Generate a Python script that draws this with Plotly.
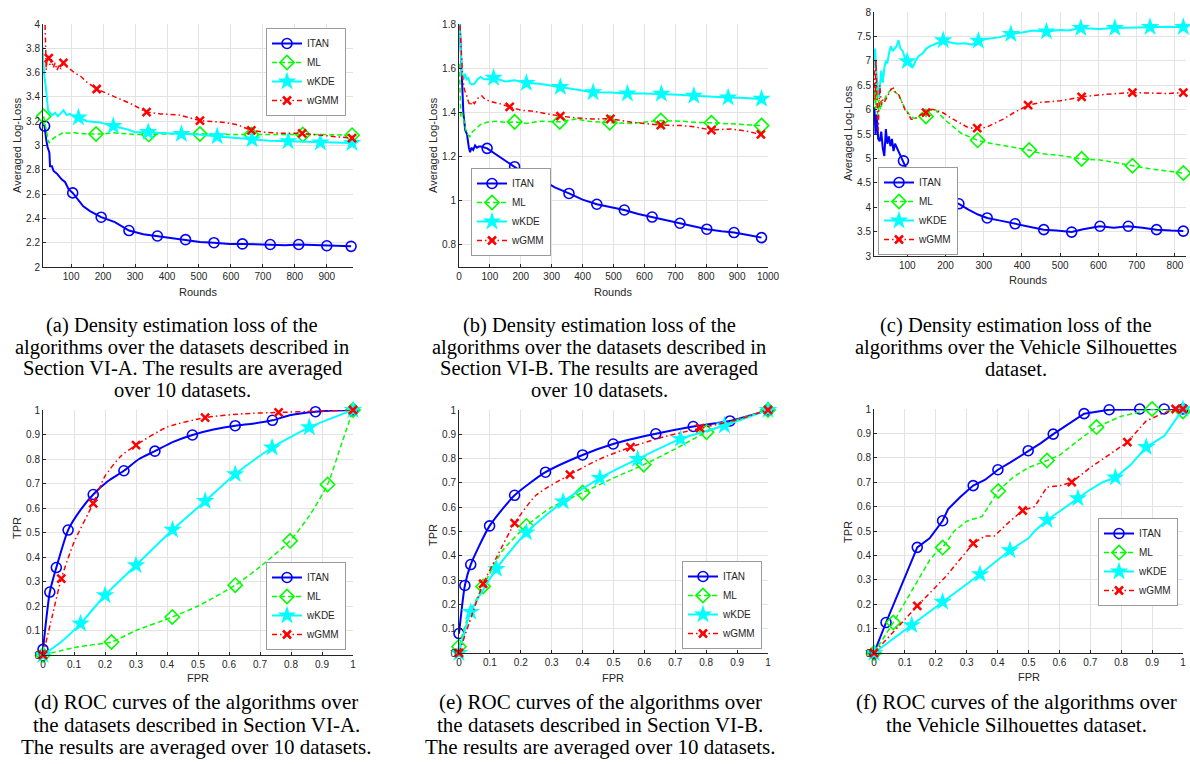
import plotly.graph_objects as go

W, H = 1190, 764

# ---------------- Panel (a): loss, Section VI-A ----------------
A_ITAN_MX = [17, 105, 194, 281, 370, 458, 547, 636, 723, 812, 900, 976]
A_ITAN_MY = [3.16, 2.61, 2.41, 2.30, 2.255, 2.225, 2.20, 2.19, 2.185, 2.185, 2.175, 2.17]
A_ITAN_EX = [12, 22, 26, 32, 34, 40, 45, 55, 71, 81, 92, 138, 159, 237, 326, 419, 503, 596, 680, 770, 860, 940]
A_ITAN_EY = [3.17, 3.05, 2.99, 2.94, 2.83, 2.83, 2.79, 2.77, 2.72, 2.70, 2.64, 2.50, 2.46, 2.37, 2.27, 2.235, 2.205, 2.19, 2.185, 2.18, 2.18, 2.17]

A_ML_MX = [14, 178, 343, 503, 664, 825, 979]
A_ML_MY = [3.24, 3.095, 3.09, 3.095, 3.09, 3.09, 3.085]
A_ML_EX = [18, 24, 30, 36, 45, 55, 65, 76, 90, 110, 130, 150, 200, 230, 260, 300, 400, 450, 560, 620, 720, 780, 900]
A_ML_EY = [3.18, 3.08, 3.02, 3.04, 3.06, 3.08, 3.09, 3.11, 3.10, 3.105, 3.10, 3.095, 3.095, 3.105, 3.10, 3.09, 3.095, 3.10, 3.09, 3.09, 3.09, 3.095, 3.09]

A_KDE_MX = [123, 232, 341, 445, 557, 666, 779, 880, 979]
A_KDE_MY = [3.23, 3.16, 3.11, 3.095, 3.075, 3.05, 3.035, 3.025, 3.02]
A_KDE_EX = [10, 16, 22, 28, 34, 42, 50, 58, 66, 76, 86, 96, 108, 150, 190, 280, 300, 400, 500, 620, 720, 840, 930]
A_KDE_EY = [3.82, 3.58, 3.45, 3.29, 3.27, 3.25, 3.27, 3.24, 3.26, 3.29, 3.25, 3.26, 3.24, 3.20, 3.19, 3.13, 3.11, 3.10, 3.09, 3.06, 3.04, 3.03, 3.025]

A_GMM_MX = [30, 76, 180, 336, 503, 664, 823, 979]
A_GMM_MY = [3.72, 3.68, 3.465, 3.275, 3.205, 3.125, 3.10, 3.06]
A_GMM_EX = [14, 18, 22, 26, 34, 38, 44, 50, 56, 62, 68, 86, 96, 110, 130, 150, 210, 250, 290, 380, 440, 580, 620, 700, 760, 900]
A_GMM_EY = [4.3, 4.05, 3.62, 3.75, 3.66, 3.71, 3.64, 3.68, 3.62, 3.66, 3.63, 3.65, 3.63, 3.60, 3.57, 3.52, 3.43, 3.39, 3.34, 3.26, 3.25, 3.19, 3.17, 3.11, 3.10, 3.08]

# ---------------- Panel (b): loss, Section VI-B ----------------
B_ITAN_MX = [91, 180, 269, 356, 446, 535, 625, 715, 802, 890, 979]
B_ITAN_MY = [1.237, 1.154, 1.094, 1.033, 0.984, 0.958, 0.926, 0.898, 0.871, 0.856, 0.833]
B_ITAN_EX = [1, 4, 7, 10, 14, 20, 26, 32, 36, 40, 46, 52, 58, 64, 72, 130, 225, 310, 400, 490, 580, 670, 760, 850, 935]
B_ITAN_EY = [1.85, 1.75, 1.62, 1.50, 1.40, 1.32, 1.30, 1.24, 1.22, 1.24, 1.23, 1.25, 1.24, 1.245, 1.245, 1.20, 1.11, 1.06, 1.005, 0.97, 0.94, 0.91, 0.885, 0.862, 0.845]

B_ML_MX = [180, 326, 488, 653, 817, 979]
B_ML_MY = [1.357, 1.357, 1.353, 1.363, 1.353, 1.34]
B_ML_EX = [1, 3, 6, 10, 15, 22, 28, 35, 42, 50, 60, 70, 90, 120, 150, 220, 260, 380, 420, 560, 600, 720, 760, 880, 920]
B_ML_EY = [1.62, 1.45, 1.38, 1.40, 1.36, 1.32, 1.30, 1.29, 1.31, 1.32, 1.33, 1.345, 1.355, 1.36, 1.355, 1.35, 1.36, 1.37, 1.36, 1.35, 1.355, 1.36, 1.355, 1.35, 1.345]

B_KDE_MX = [112, 218, 328, 434, 545, 655, 760, 871, 979]
B_KDE_MY = [1.556, 1.533, 1.515, 1.491, 1.485, 1.484, 1.475, 1.467, 1.461]
B_KDE_EX = [1, 4, 8, 12, 16, 20, 25, 30, 36, 42, 50, 60, 70, 80, 95, 150, 180, 260, 380, 490, 600, 710, 820, 930]
B_KDE_EY = [1.82, 1.70, 1.61, 1.56, 1.55, 1.575, 1.55, 1.555, 1.53, 1.525, 1.53, 1.55, 1.56, 1.55, 1.55, 1.54, 1.545, 1.53, 1.505, 1.49, 1.485, 1.48, 1.47, 1.465]

B_GMM_MX = [164, 328, 490, 653, 817, 977]
B_GMM_MY = [1.425, 1.383, 1.371, 1.342, 1.32, 1.30]
B_GMM_EX = [1, 4, 8, 12, 18, 24, 30, 36, 42, 50, 58, 66, 74, 84, 100, 130, 200, 240, 280, 380, 430, 560, 600, 720, 760, 880, 930]
B_GMM_EY = [1.85, 1.78, 1.68, 1.55, 1.50, 1.48, 1.45, 1.43, 1.45, 1.44, 1.46, 1.47, 1.475, 1.46, 1.45, 1.44, 1.41, 1.405, 1.395, 1.375, 1.37, 1.355, 1.35, 1.34, 1.335, 1.325, 1.315]

# ---------------- Panel (c): loss, Vehicle Silhouettes ----------------
C_ITAN_MX = [90, 162, 235, 309, 382, 457, 530, 604, 678, 752, 822]
C_ITAN_MY = [4.95, 4.60, 4.07, 3.78, 3.66, 3.54, 3.49, 3.61, 3.61, 3.54, 3.51]
C_ITAN_EX = [14, 17, 20, 24, 28, 32, 36, 40, 44, 48, 52, 56, 60, 64, 68, 74, 80, 100, 110, 118, 126, 134, 146, 154, 175, 195, 210, 260, 285, 340, 420, 490, 560, 640, 715, 790]
C_ITAN_EY = [6.05, 5.5, 5.9, 5.4, 5.35, 5.55, 5.2, 5.05, 5.6, 5.3, 5.45, 5.25, 5.4, 5.15, 5.3, 5.2, 5.1, 4.75, 4.65, 4.62, 4.55, 4.6, 4.48, 4.58, 4.5, 4.3, 4.15, 3.95, 3.85, 3.73, 3.60, 3.52, 3.55, 3.58, 3.58, 3.52]

C_ML_MX = [149, 284, 419, 556, 689, 822]
C_ML_MY = [5.86, 5.37, 5.17, 4.99, 4.85, 4.70]
C_ML_EX = [14, 17, 20, 23, 26, 30, 35, 40, 46, 52, 58, 64, 70, 76, 84, 92, 100, 110, 120, 130, 140, 158, 172, 185, 200, 220, 240, 260, 310, 350, 380, 450, 500, 600, 640, 740, 780]
C_ML_EY = [6.4, 6.0, 6.6, 5.8, 6.2, 6.0, 6.15, 6.2, 6.3, 6.35, 6.42, 6.38, 6.35, 6.3, 6.2, 6.05, 5.95, 5.85, 5.82, 5.85, 5.95, 5.98, 6.01, 5.9, 5.78, 5.65, 5.52, 5.45, 5.32, 5.26, 5.22, 5.10, 5.06, 4.97, 4.92, 4.78, 4.74]

C_KDE_MX = [100, 194, 286, 371, 464, 554, 643, 735, 822]
C_KDE_MY = [6.99, 7.42, 7.41, 7.55, 7.60, 7.67, 7.67, 7.69, 7.69]
C_KDE_EX = [14, 16, 18, 20, 23, 26, 29, 32, 36, 40, 44, 48, 52, 57, 62, 67, 72, 77, 82, 88, 94, 108, 115, 122, 130, 140, 150, 160, 175, 210, 230, 250, 270, 310, 340, 400, 430, 500, 520, 600, 700, 780]
C_KDE_EY = [6.85, 7.25, 6.9, 6.6, 6.4, 6.25, 6.5, 6.8, 6.55, 6.85, 7.0, 6.95, 7.15, 7.3, 7.2, 7.25, 7.3, 7.42, 7.25, 7.2, 7.05, 6.95, 6.88, 7.0, 7.1, 7.15, 7.25, 7.3, 7.35, 7.38, 7.35, 7.36, 7.33, 7.45, 7.48, 7.58, 7.62, 7.63, 7.62, 7.65, 7.68, 7.7]

C_GMM_MX = [149, 283, 416, 556, 689, 822]
C_GMM_MY = [5.94, 5.62, 6.09, 6.26, 6.35, 6.35]
C_GMM_EX = [14, 16, 18, 20, 22, 24, 26, 28, 32, 36, 40, 46, 52, 58, 64, 70, 78, 86, 94, 102, 110, 118, 126, 136, 160, 168, 180, 195, 210, 225, 240, 255, 270, 300, 310, 330, 350, 375, 400, 450, 500, 600, 650, 730, 780]
C_GMM_EY = [6.8, 6.2, 7.02, 6.3, 5.9, 5.58, 6.3, 6.5, 6.1, 6.2, 6.15, 6.25, 6.35, 6.42, 6.44, 6.35, 6.3, 6.15, 6.0, 5.92, 5.8, 5.8, 5.85, 5.9, 6.0, 6.0, 5.97, 5.93, 5.85, 5.78, 5.72, 5.65, 5.62, 5.63, 5.65, 5.72, 5.8, 5.92, 6.02, 6.15, 6.18, 6.3, 6.33, 6.34, 6.33]

# ---------------- Panel (d): ROC, Section VI-A ----------------
D_ITAN_MX = [0, 0.022, 0.043, 0.081, 0.162, 0.261, 0.361, 0.482, 0.62, 0.74, 0.879, 1]
D_ITAN_MY = [0.023, 0.257, 0.357, 0.51, 0.655, 0.752, 0.832, 0.898, 0.936, 0.958, 0.993, 1]
D_ITAN_EX = [0.12, 0.21, 0.31, 0.42, 0.55, 0.68, 0.8, 0.94]
D_ITAN_EY = [0.59, 0.71, 0.80, 0.87, 0.92, 0.945, 0.98, 0.998]

D_ML_MX = [0, 0.221, 0.417, 0.62, 0.797, 0.918, 1]
D_ML_MY = [0, 0.053, 0.155, 0.285, 0.466, 0.696, 1]
D_ML_EX = [0.1, 0.15, 0.3, 0.5, 0.7, 0.86, 0.96]
D_ML_EY = [0.03, 0.04, 0.1, 0.2, 0.36, 0.57, 0.85]

D_KDE_MX = [0, 0.121, 0.2, 0.3, 0.418, 0.523, 0.62, 0.739, 0.859, 1]
D_KDE_MY = [0, 0.128, 0.244, 0.366, 0.511, 0.628, 0.738, 0.847, 0.929, 1]
D_KDE_EX = [0.06]
D_KDE_EY = [0.055]

D_GMM_MX = [0, 0.059, 0.162, 0.3, 0.523, 0.76, 1]
D_GMM_MY = [0, 0.312, 0.619, 0.857, 0.969, 0.99, 1]
D_GMM_EX = [0.03, 0.1, 0.2, 0.25, 0.4, 0.65, 0.88]
D_GMM_EY = [0.16, 0.46, 0.73, 0.81, 0.93, 0.985, 0.995]

# ---------------- Panel (e): ROC, Section VI-B ----------------
E_ITAN_MX = [0, 0.019, 0.038, 0.099, 0.18, 0.28, 0.4, 0.499, 0.637, 0.758, 0.877, 1]
E_ITAN_MY = [0.08, 0.278, 0.364, 0.523, 0.649, 0.744, 0.815, 0.86, 0.902, 0.932, 0.955, 1]
E_ITAN_EX = []
E_ITAN_EY = []

E_ML_MX = [0, 0.078, 0.218, 0.4, 0.598, 0.801, 1]
E_ML_MY = [0.026, 0.274, 0.523, 0.66, 0.775, 0.909, 1]
E_ML_EX = [0.03, 0.14, 0.3, 0.5, 0.7, 0.9]
E_ML_EY = [0.15, 0.42, 0.6, 0.72, 0.84, 0.96]

E_KDE_MX = [0, 0.038, 0.121, 0.218, 0.337, 0.456, 0.578, 0.717, 0.859, 1]
E_KDE_MY = [0, 0.169, 0.346, 0.496, 0.623, 0.72, 0.798, 0.881, 0.936, 1]
E_KDE_EX = []
E_KDE_EY = []

E_GMM_MX = [0, 0.078, 0.18, 0.359, 0.555, 0.78, 1]
E_GMM_MY = [0, 0.285, 0.534, 0.734, 0.847, 0.925, 1]
E_GMM_EX = [0.04, 0.12, 0.25, 0.45, 0.65, 0.9]
E_GMM_EY = [0.15, 0.39, 0.65, 0.795, 0.885, 0.96]

# ---------------- Panel (f): ROC, Vehicle Silhouettes ----------------
F_ITAN_MX = [0, 0.039, 0.14, 0.222, 0.321, 0.401, 0.499, 0.58, 0.68, 0.761, 0.86, 0.939, 1]
F_ITAN_MY = [0, 0.125, 0.433, 0.542, 0.686, 0.751, 0.829, 0.897, 0.981, 0.997, 1, 1, 1]
F_ITAN_EX = [0.18, 0.24, 0.28, 0.36, 0.44, 0.54, 0.63]
F_ITAN_EY = [0.47, 0.59, 0.64, 0.71, 0.78, 0.86, 0.94]

F_ML_MX = [0, 0.0625, 0.222, 0.402, 0.56, 0.72, 0.9, 1]
F_ML_MY = [0, 0.125, 0.432, 0.664, 0.789, 0.926, 1, 0.99]
F_ML_EX = [0.12, 0.18, 0.2, 0.26, 0.3, 0.35, 0.38, 0.45, 0.5, 0.6, 0.66, 0.8]
F_ML_EY = [0.25, 0.38, 0.41, 0.5, 0.54, 0.56, 0.62, 0.72, 0.76, 0.81, 0.87, 0.97]

F_KDE_MX = [0, 0.122, 0.222, 0.343, 0.44, 0.56, 0.66, 0.781, 0.881, 1]
F_KDE_MY = [0, 0.114, 0.21, 0.323, 0.421, 0.545, 0.634, 0.719, 0.844, 1]
F_KDE_EX = [0.5, 0.52, 0.6, 0.7, 0.74, 0.83, 0.94]
F_KDE_EY = [0.47, 0.5, 0.58, 0.67, 0.7, 0.77, 0.89]

F_GMM_MX = [0, 0.14, 0.321, 0.481, 0.64, 0.82, 0.976, 1]
F_GMM_MY = [0, 0.193, 0.449, 0.584, 0.7, 0.864, 1, 1]
F_GMM_EX = [0.23, 0.36, 0.39, 0.44, 0.52, 0.56, 0.6, 0.7, 0.77, 0.88, 0.93]
F_GMM_EY = [0.31, 0.48, 0.48, 0.54, 0.6, 0.68, 0.685, 0.76, 0.82, 0.95, 0.98]

SERIES_NAMES = ["ITAN", "ML", "wKDE", "wGMM"]

CAPTIONS = {
    "a": ["(a) Density estimation loss of the", "algorithms over the datasets described in",
          "Section VI-A. The results are averaged", "over 10 datasets."],
    "b": ["(b) Density estimation loss of the", "algorithms over the datasets described in",
          "Section VI-B. The results are averaged", "over 10 datasets."],
    "c": ["(c) Density estimation loss of the", "algorithms over the Vehicle Silhouettes", "dataset."],
    "d": ["(d) ROC curves of the algorithms over", "the datasets described in Section VI-A.",
          "The results are averaged over 10 datasets."],
    "e": ["(e) ROC curves of the algorithms over", "the datasets described in Section VI-B.",
          "The results are averaged over 10 datasets."],
    "f": ["(f) ROC curves of the algorithms over", "the Vehicle Silhouettes dataset."],
}

# ---------------- styling ----------------
STYLE = {
    "ITAN": dict(color="#0000FF", dash="solid", width=2.0, symbol="circle-open", size=10, mlw=1.6),
    "ML": dict(color="#00FF00", dash="5px,3px", width=1.5, symbol="diamond-open", size=11, mlw=1.6),
    "wKDE": dict(color="#00FFFF", dash="solid", width=2.0, symbol="star", size=14, mlw=0),
    "wGMM": dict(color="#FF0000", dash="5px,3px,1.5px,3px", width=1.5, symbol="x-thin-open", size=8, mlw=2.5),
}

def X(px):
    return px / W

def Y(py):
    return 1 - py / H

fig = go.Figure()

PANELS = [
    ("a", 1, (43, 353), (24, 267), [12, 982], [2, 4], 100, 0.2, "linear",
     [(A_ITAN_MX, A_ITAN_MY, A_ITAN_EX, A_ITAN_EY), (A_ML_MX, A_ML_MY, A_ML_EX, A_ML_EY),
      (A_KDE_MX, A_KDE_MY, A_KDE_EX, A_KDE_EY), (A_GMM_MX, A_GMM_MY, A_GMM_EX, A_GMM_EY)]),
    ("b", 2, (459, 768), (24, 267), [0, 1000], [0.7, 1.8], 100, 0.2, "linear",
     [(B_ITAN_MX, B_ITAN_MY, B_ITAN_EX, B_ITAN_EY), (B_ML_MX, B_ML_MY, B_ML_EX, B_ML_EY),
      (B_KDE_MX, B_KDE_MY, B_KDE_EX, B_KDE_EY), (B_GMM_MX, B_GMM_MY, B_GMM_EX, B_GMM_EY)]),
    ("c", 3, (874, 1186), (12, 256), [13, 829], [3, 8], 100, 0.5, "linear",
     [(C_ITAN_MX, C_ITAN_MY, C_ITAN_EX, C_ITAN_EY), (C_ML_MX, C_ML_MY, C_ML_EX, C_ML_EY),
      (C_KDE_MX, C_KDE_MY, C_KDE_EX, C_KDE_EY), (C_GMM_MX, C_GMM_MY, C_GMM_EX, C_GMM_EY)]),
    ("d", 4, (43, 353), (410, 655), [0, 1], [0, 1], 0.1, 0.1, "spline",
     [(D_ITAN_MX, D_ITAN_MY, D_ITAN_EX, D_ITAN_EY), (D_ML_MX, D_ML_MY, D_ML_EX, D_ML_EY),
      (D_KDE_MX, D_KDE_MY, D_KDE_EX, D_KDE_EY), (D_GMM_MX, D_GMM_MY, D_GMM_EX, D_GMM_EY)]),
    ("e", 5, (459, 768), (410, 653), [0, 1], [0, 1], 0.1, 0.1, "spline",
     [(E_ITAN_MX, E_ITAN_MY, E_ITAN_EX, E_ITAN_EY), (E_ML_MX, E_ML_MY, E_ML_EX, E_ML_EY),
      (E_KDE_MX, E_KDE_MY, E_KDE_EX, E_KDE_EY), (E_GMM_MX, E_GMM_MY, E_GMM_EX, E_GMM_EY)]),
    ("f", 6, (874, 1183), (409, 653), [0, 1], [0, 1], 0.1, 0.1, "linear",
     [(F_ITAN_MX, F_ITAN_MY, F_ITAN_EX, F_ITAN_EY), (F_ML_MX, F_ML_MY, F_ML_EX, F_ML_EY),
      (F_KDE_MX, F_KDE_MY, F_KDE_EX, F_KDE_EY), (F_GMM_MX, F_GMM_MY, F_GMM_EX, F_GMM_EY)]),
]

LEGEND_POS = {
    "a": (346, 28, "right", "top"),
    "b": (471, 256, "left", "bottom"),
    "c": (878, 255, "left", "bottom"),
    "d": (346, 650, "right", "bottom"),
    "e": (762, 649, "right", "bottom"),
    "f": (1178, 562, "right", "middle"),
}

AX_TITLES = {
    "a": (("Rounds", 198, 292), ("Averaged Log-Loss", 17, 145)),
    "b": (("Rounds", 613, 292), ("Averaged Log-Loss", 433, 145)),
    "c": (("Rounds", 1028, 280), ("Averaged Log-Loss", 848, 133)),
    "d": (("FPR", 198, 678), ("TPR", 17, 528)),
    "e": (("FPR", 613, 678), ("TPR", 433, 535)),
    "f": (("FPR", 1029, 677), ("TPR", 848, 532)),
}

TICKFONT = dict(family="Liberation Sans, Arial, sans-serif", size=10, color="#262626")
annotations = []

for key, idx, (x0, x1), (y0, y1), xr, yr, xdt, ydt, shape, data in PANELS:
    xa = "x" if idx == 1 else f"x{idx}"
    ya = "y" if idx == 1 else f"y{idx}"
    lg = "legend" if idx == 1 else f"legend{idx}"
    for name, (mx, my, ex, ey) in zip(SERIES_NAMES, data):
        st = STYLE[name]
        pts = sorted(zip(list(mx) + list(ex), list(my) + list(ey)), key=lambda p: p[0])
        lx = [p[0] for p in pts]
        ly = [p[1] for p in pts]
        line = dict(color=st["color"], width=st["width"], dash=st["dash"], shape=shape)
        if shape == "spline":
            line["smoothing"] = 0.6
        fig.add_trace(go.Scatter(x=lx, y=ly, mode="lines", line=line, xaxis=xa, yaxis=ya,
                                 showlegend=False, hoverinfo="skip"))
        marker = dict(symbol=st["symbol"], size=st["size"], color=st["color"],
                      line=dict(color=st["color"], width=st["mlw"]))
        fig.add_trace(go.Scatter(x=mx, y=my, mode="markers", marker=marker, xaxis=xa, yaxis=ya,
                                 showlegend=False, cliponaxis=False, hoverinfo="skip"))
        fig.add_trace(go.Scatter(x=[None], y=[None], mode="lines+markers", name=name,
                                 line=dict(color=st["color"], width=st["width"], dash=st["dash"]),
                                 marker=marker, xaxis=xa, yaxis=ya, legend=lg, showlegend=True))

    axis_common = dict(showline=True, linecolor="#262626", linewidth=1, mirror=False,
                       ticks="inside", ticklen=3, tickcolor="#262626", showgrid=True,
                       gridcolor="#e3e3e3", gridwidth=1, zeroline=False, tickfont=TICKFONT,
                       automargin=False, fixedrange=True)
    fig.update_layout(**{
        ("xaxis" if idx == 1 else f"xaxis{idx}"): dict(
            domain=[X(x0), X(x1)], range=xr, dtick=xdt, tick0=0, anchor=ya, **axis_common),
        ("yaxis" if idx == 1 else f"yaxis{idx}"): dict(
            domain=[Y(y1), Y(y0)], range=yr, dtick=ydt, tick0=0, anchor=xa, **axis_common),
    })

    lx_, ly_, xan, yan = LEGEND_POS[key]
    fig.update_layout(**{lg: dict(
        x=X(lx_), y=Y(ly_), xanchor=xan, yanchor=yan, xref="paper", yref="paper",
        bgcolor="white", bordercolor="#9a9a9a", borderwidth=1,
        font=dict(family="Liberation Sans, Arial, sans-serif", size=10, color="#262626"),
        itemwidth=30, tracegroupgap=0, traceorder="normal")})

    (xt, xtx, xty), (yt, ytx, yty) = AX_TITLES[key]
    annotations.append(dict(text=xt, x=X(xtx), y=Y(xty), xref="paper", yref="paper",
                            showarrow=False, xanchor="center", yanchor="middle",
                            font=dict(family="Liberation Sans, Arial, sans-serif", size=11, color="#262626")))
    annotations.append(dict(text=yt, x=X(ytx), y=Y(yty), xref="paper", yref="paper",
                            showarrow=False, xanchor="center", yanchor="middle", textangle=-90,
                            font=dict(family="Liberation Sans, Arial, sans-serif", size=11, color="#262626")))

CAP_POS = {
    "a": (182, [325, 347, 368.5, 390], 20.5),
    "b": (599, [325, 347, 368.5, 390], 20.5),
    "c": (1016, [325, 347, 368.5], 20.5),
    "d": (196, [702, 724.5, 747], 21),
    "e": (600, [702, 724.5, 747], 21),
    "f": (1016, [702, 724.5], 21),
}
for key, (cx, ys, fs) in CAP_POS.items():
    for text, cy in zip(CAPTIONS[key], ys):
        annotations.append(dict(text=text, x=X(cx), y=Y(cy), xref="paper", yref="paper",
                                showarrow=False, xanchor="center", yanchor="middle",
                                font=dict(family="Liberation Serif, Times New Roman, serif",
                                          size=fs, color="black")))

fig.update_layout(width=W, height=H, margin=dict(l=0, r=0, t=0, b=0, autoexpand=False),
                  paper_bgcolor="white", plot_bgcolor="white", hovermode=False,
                  annotations=annotations, showlegend=True)

fig.write_html("out.html", config={"displayModeBar": False, "staticPlot": True},
               post_script="document.body.style.margin='0px';document.body.style.overflow='hidden';")
